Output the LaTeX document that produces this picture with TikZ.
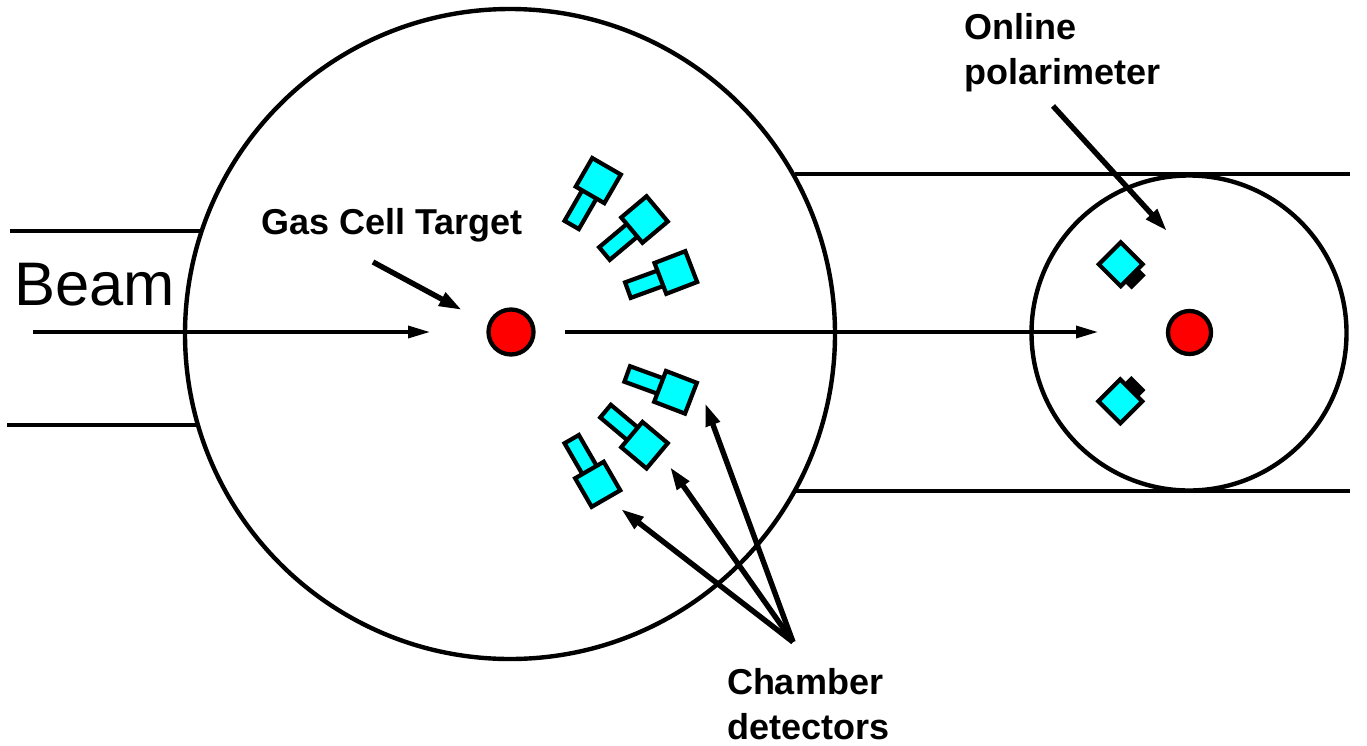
\documentclass[tikz,border=0pt]{standalone}
\usepackage{fontspec}
\setmainfont{Liberation Sans}
\usetikzlibrary{arrows.meta}
\definecolor{detcyan}{RGB}{0,255,255}
\tikzset{
  x=1pt,y=-1pt,
  ring/.style={circle,draw=black,line width=4.4pt,inner sep=0pt,outer sep=0pt},
  redcell/.style={circle,draw=black,line width=4.3pt,fill=red,inner sep=0pt,outer sep=0pt,minimum size=45pt},
  head/.style={rectangle,draw=black,line width=4.2pt,fill=detcyan,inner sep=0pt,outer sep=0pt,minimum size=33pt},
  stem/.style={rectangle,draw=black,line width=4.2pt,fill=detcyan,inner sep=0pt,outer sep=0pt,minimum width=44pt,minimum height=16.5pt},
  polhead/.style={rectangle,draw=black,line width=4.2pt,fill=detcyan,inner sep=0pt,outer sep=0pt,minimum size=31pt,rotate=45},
  polback/.style={rectangle,fill=black,inner sep=0pt,outer sep=0pt,minimum width=20pt,minimum height=16pt},
  wall/.style={line width=3.8pt},
  beamline/.style={line width=3.4pt,-{Triangle[length=22pt,width=12pt]}},
  pointer/.style={line width=5.4pt,-{Triangle[length=23pt,width=14pt]}},
  lab/.style={font=\fontsize{36}{36}\selectfont\bfseries,inner sep=0pt,outer sep=0pt},
}
\begin{document}
\begin{tikzpicture}
\useasboundingbox (0,0) rectangle (1367,745);
% beam pipes
\coordinate (p1a) at (10,231);\coordinate (p1b) at (203,231);
\coordinate (p2a) at (7,425);\coordinate (p2b) at (197,425);
\coordinate (p3a) at (795,174);\coordinate (p3b) at (1350,174);
\coordinate (p4a) at (795,491);\coordinate (p4b) at (1350,491);
\draw[wall] (p1a) -- (p1b);
\draw[wall] (p2a) -- (p2b);
\draw[wall] (p3a) -- (p3b);
\draw[wall] (p4a) -- (p4b);
% chambers
\node[ring,minimum size=650pt] (chamber) at (510,334) {};
\node[ring,minimum size=315pt] (polchamber) at (1189,333) {};
% targets
\node[redcell,minimum size=45pt] (target) at (511,332) {};
\node[redcell,minimum size=43pt] (poltarget) at (1189.5,332.5) {};
% detectors
\node[stem,rotate=60] (s1) at (582.7,205.9) {};
\node[head,rotate=60] (d1) at (598.3,180.6) {};
\node[stem,rotate=40] (s2) at (621.3,239.4) {};
\node[head,rotate=40] (d2) at (644.5,219.5) {};
\node[stem,rotate=20] (s3) at (648.6,282.6) {};
\node[head,rotate=21] (d3) at (675.8,272.5) {};
\node[stem,rotate=-20] (s4) at (647.9,381.5) {};
\node[head,rotate=-21] (d4) at (675.5,392.3) {};
\node[stem,rotate=-40] (s5) at (622.4,425.3) {};
\node[head,rotate=-40] (d5) at (644.5,445.2) {};
\node[stem,rotate=-60] (s6) at (582.7,458.2) {};
\node[head,rotate=-60] (d6) at (597.7,484.3) {};
% polarimeter detectors
\node[polback,rotate=45] (b1) at (1133,276.7) {};
\node[polhead] (q1) at (1120.7,264.3) {};
\node[polback,rotate=-45] (b2) at (1132.7,388.7) {};
\node[polhead] (q2) at (1120.3,401.3) {};
% beam arrows
\coordinate (a1) at (33,332);\coordinate (a2) at (430,332);
\coordinate (a3) at (565,332);\coordinate (a4) at (1098,332);
\draw[beamline] (a1) -- (a2);
\draw[beamline] (a3) -- (a4);
% labels
\node[font=\fontsize{61.5}{62}\selectfont,inner sep=0pt,outer sep=0pt,anchor=base west] (beam) at (14,305) {Beam};
\node[lab,anchor=base west] (gas) at (261,234) {Gas Cell Target};
\node[lab,anchor=base west] (on1) at (964,39) {Online};
\node[lab,anchor=base west] (on2) at (964,84) {polarimeter};
\node[lab,anchor=base west] (ch1) at (727,694) {Chamber};
\node[lab,anchor=base west] (ch2) at (727,739) {detectors};
% pointers
\coordinate (g1) at (373,262);\coordinate (g2) at (462,310);
\coordinate (o1) at (1053,106);\coordinate (o2) at (1167,231);
\coordinate (c0) at (793,642);
\coordinate (c1) at (705,403);\coordinate (c2) at (670,467);\coordinate (c3) at (621,509);
\draw[pointer] (g1) -- (g2);
\draw[pointer] (o1) -- (o2);
\draw[pointer] (c0) -- (c1);
\draw[pointer] (c0) -- (c2);
\draw[pointer] (c0) -- (c3);
\end{tikzpicture}
\end{document}
